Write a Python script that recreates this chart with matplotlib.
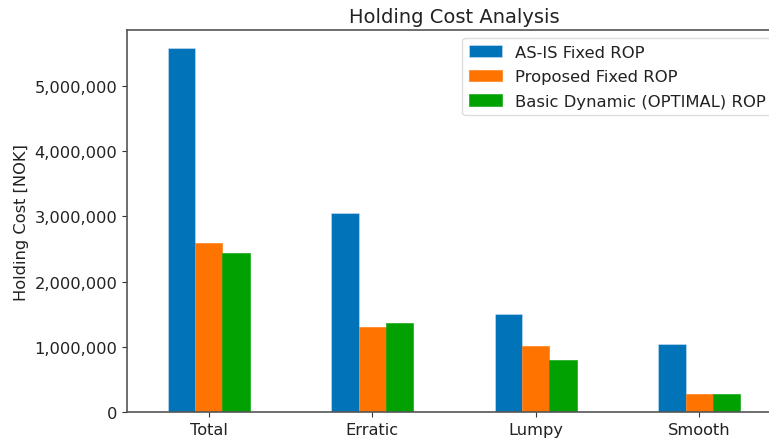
import matplotlib
matplotlib.use("Agg")
import matplotlib.pyplot as plt
import matplotlib.ticker as mticker
import numpy as np

categories = ["Total", "Erratic", "Lumpy", "Smooth"]
series_names = ["AS-IS Fixed ROP", "Proposed Fixed ROP", "Basic Dynamic (OPTIMAL) ROP"]
as_is = [5573000, 3053000, 1511000, 1043000]
proposed = [2585000, 1313000, 1008000, 275000]
dynamic = [2443000, 1364000, 794000, 275000]
colors = ["#0173B8", "#FF7400", "#00A100"]

W, H = 769, 439
fig = plt.figure(figsize=(W / 100, H / 100), dpi=100)
ax = fig.add_axes([127 / W, (H - 413.3) / H, (781 - 127) / W, (413.3 - 31) / H])

x = np.arange(len(categories))
width = 0.5 / 3
for i, (vals, name) in enumerate(zip([as_is, proposed, dynamic], series_names)):
    ax.bar(x + (i - 1) * width, vals, width, color=colors[i], label=name,
           edgecolor="#cfe3f5" if i == 0 else colors[i], linewidth=0.4)

ax.set_xlim(-0.5, len(categories) - 0.5)
ax.set_ylim(0, max(as_is) * 1.05)
ax.set_xticks(x)
ax.set_xticklabels(categories)
ax.yaxis.set_major_locator(mticker.MultipleLocator(1000000))
ax.yaxis.set_major_formatter(mticker.FuncFormatter(lambda v, p: f"{int(v):,}"))
ax.tick_params(labelsize=11.7, colors="#333333", labelcolor="#222222")
for s in ax.spines.values():
    s.set_color("#555555")
    s.set_linewidth(1.2)

ax.set_ylabel("Holding Cost [NOK]", fontsize=11.7, color="#222222")
ax.set_title("Holding Cost Analysis", fontsize=14, color="#222222")
leg = ax.legend(loc="upper right", fontsize=11.8, framealpha=1, edgecolor="#dddddd",
                labelspacing=0.58, borderaxespad=0,
                bbox_to_anchor=(772 / W, 1 - 39 / H), bbox_transform=fig.transFigure)
for t in leg.get_texts():
    t.set_color("#222222")

fig.savefig("out.png", dpi=100)
